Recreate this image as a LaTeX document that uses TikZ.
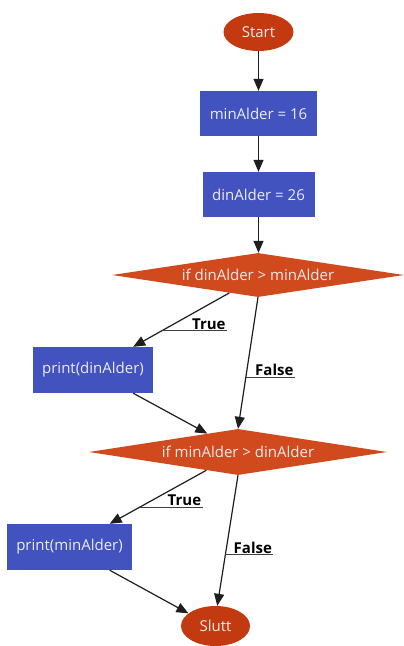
\documentclass[tikz,border=0pt]{standalone}
\usepackage{fontspec}
\setmainfont{Open Sans}
\usetikzlibrary{shapes.geometric,arrows.meta,calc}
\definecolor{boxblue}{RGB}{66,83,192}
\definecolor{decorange}{RGB}{208,74,30}
\definecolor{termred}{RGB}{196,58,16}
\definecolor{edgegray}{RGB}{30,30,30}
\tikzset{
  procbox/.style={rectangle, fill=boxblue, text=white!92!black, inner sep=0pt, font=\fontsize{15}{18}\selectfont},
  decision/.style={diamond, fill=decorange, text=white!92!black, inner sep=0pt, font=\fontsize{15}{18}\selectfont},
  terminal/.style={ellipse, fill=termred, text=white!92!black, inner sep=0pt, font=\fontsize{15}{18}\selectfont},
  flow/.style={draw=edgegray, line width=1.2pt, -{Triangle[length=12pt,width=10pt]}},
  ul/.style={draw=edgegray!85, line width=0.9pt},
  lbl/.style={font=\bfseries\fontsize{15}{18}\selectfont, text=black, inner sep=1pt}
}
\begin{document}
\begin{tikzpicture}[x=1pt,y=-1pt]
\useasboundingbox (0,0) rectangle (404,646);
\fill[white] (0,0) rectangle (404,646);

% nodes
\node[terminal, minimum width=70pt, minimum height=38pt] (start) at (258.5,32) {Start};
\node[procbox, minimum width=117pt, minimum height=45pt] (setmin) at (258.5,113.5) {minAlder = 16};
\node[procbox, minimum width=112pt, minimum height=45pt] (setdin) at (258.5,194.5) {dinAlder = 26};
\node[decision, aspect=6.6, minimum width=292pt, minimum height=44pt] (testA) at (258,275) {if dinAlder > minAlder};
\node[procbox, minimum width=120pt, minimum height=46pt] (printdin) at (93,370) {print(dinAlder)};
\node[decision, aspect=6.5, minimum width=298pt, minimum height=46pt] (testB) at (238,452) {if minAlder > dinAlder};
\node[procbox, minimum width=125pt, minimum height=46pt] (printmin) at (69.5,547) {print(minAlder)};
\node[terminal, minimum width=69pt, minimum height=40pt] (stop) at (215.5,626) {Slutt};

% connectors
\draw[flow] (start) -- (setmin);
\draw[flow] (setmin) -- (setdin);
\draw[flow] (setdin.south) -- (setdin.south |- testA.north);
\draw[flow] (testA.212.7) -- coordinate[pos=0.70] (tA) (printdin.30.5);
\draw[flow] (testA.south) -- coordinate[pos=0.606] (fA) (testB.north);
\draw[flow] (printdin.-30) -- (testB.149.9);
\draw[flow] (testB.210) -- coordinate[pos=0.69] (tB) (printmin.30.9);
\draw[flow] (testB.south) -- coordinate[pos=0.61] (fB) (stop.85);
\draw[flow] (printmin.-30) -- (stop.155);

% branch labels with leader lines
\draw[ul] (tA) -- ++(65,0) node[lbl, anchor=south east] (lblTA) {True};
\draw[ul] (fA) -- ++(49,0) node[lbl, anchor=south east] (lblFA) {False};
\draw[ul] (tB) -- ++(63,0) node[lbl, anchor=south east] (lblTB) {True};
\draw[ul] (fB) -- ++(48,0) node[lbl, anchor=south east] (lblFB) {False};
\end{tikzpicture}
\end{document}
